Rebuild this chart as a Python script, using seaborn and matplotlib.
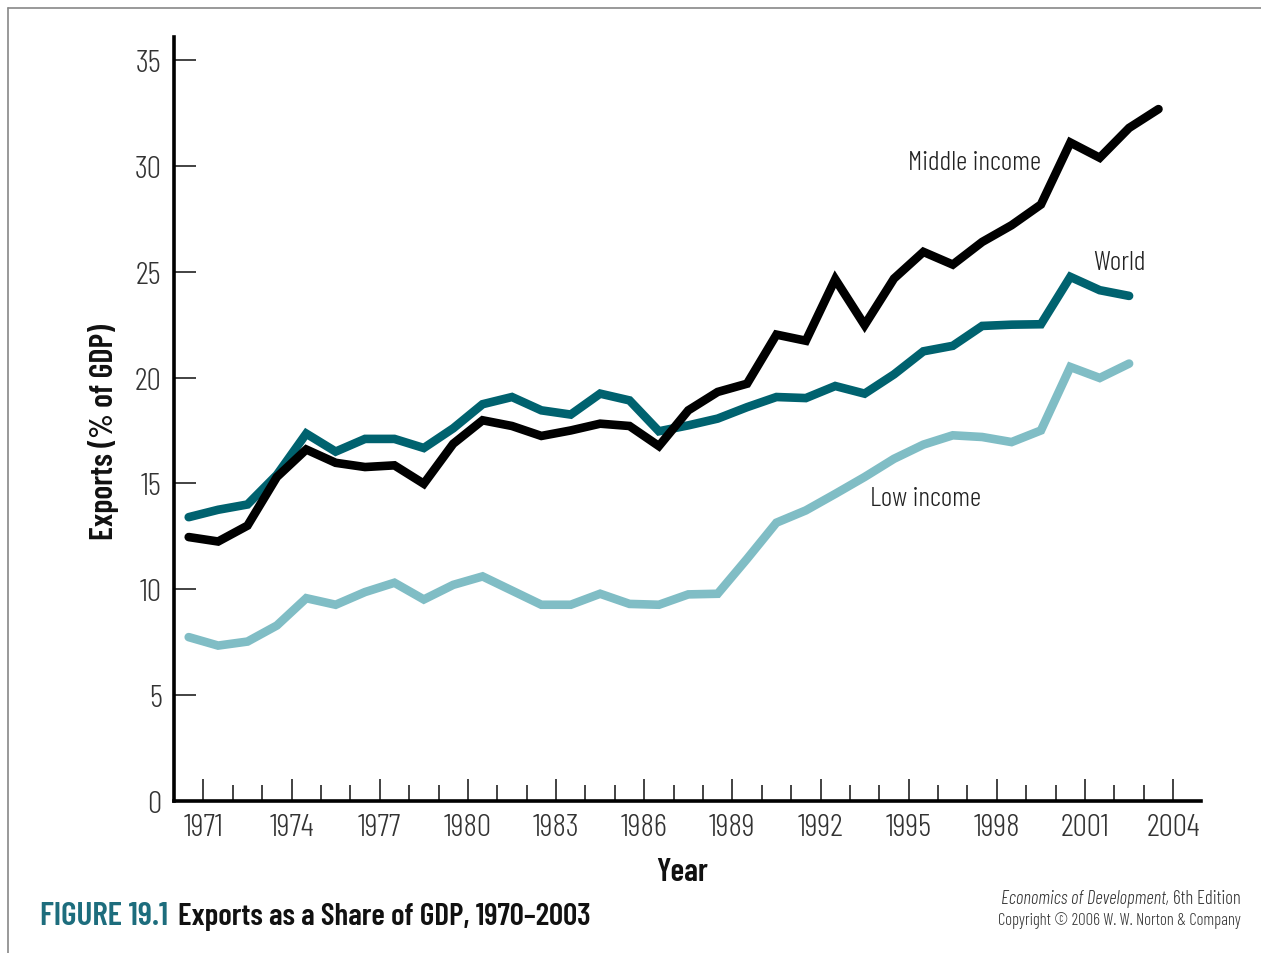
import numpy as np
import pandas as pd
import matplotlib
matplotlib.use("Agg")
import matplotlib.pyplot as plt
import seaborn as sns
from matplotlib.lines import Line2D

# exports as % of GDP
years = list(range(1970, 2004))
middle_income = [12.46, 12.25, 13.0, 15.3, 16.6, 15.97, 15.77, 15.85, 14.98, 16.87,
                 17.98, 17.71, 17.24, 17.5, 17.82, 17.71, 16.76, 18.45, 19.32, 19.71,
                 22.03, 21.74, 24.65, 22.48, 24.68, 25.94, 25.34, 26.41, 27.2, 28.18,
                 31.11, 30.39, 31.8, 32.69]
world = [13.4, 13.75, 14.0, 15.4, 17.35, 16.5, 17.1, 17.1, 16.67, 17.6,
         18.74, 19.08, 18.45, 18.25, 19.24, 18.92, 17.46, 17.74, 18.06, 18.6,
         19.08, 19.03, 19.6, 19.24, 20.15, 21.24, 21.5, 22.44, 22.5, 22.52,
         24.76, 24.13, 23.86]
low_income = [7.73, 7.33, 7.52, 8.28, 9.57, 9.26, 9.86, 10.3, 9.51, 10.2,
              10.6, 9.93, 9.26, 9.26, 9.78, 9.3, 9.26, 9.75, 9.78, 11.43,
              13.14, 13.72, 14.5, 15.3, 16.16, 16.83, 17.27, 17.19, 16.95, 17.5,
              20.5, 19.98, 20.66]

series = {"Low income": low_income, "World": world, "Middle income": middle_income}
colors = {"Low income": "#80bdc5", "World": "#00626f", "Middle income": "#000000"}

rows = []
for name, vals in series.items():
    for yr, v in zip(years, vals):
        # annual values sit in the middle of each year interval
        rows.append({"year": yr + 0.5, "share": v, "group": name})
df = pd.DataFrame(rows)

sns.set_style("ticks")
plt.rcParams["font.family"] = ["Barlow Condensed", "DejaVu Sans"]
LIGHT = 300

fig = plt.figure(figsize=(12.61, 9.54), dpi=100)
ax = fig.add_axes([0.138, 0.1597, 0.8145, 0.8005])

sns.lineplot(data=df, x="year", y="share", hue="group", palette=colors,
             hue_order=list(series.keys()), linewidth=6.2, legend=False, ax=ax,
             solid_capstyle="round", solid_joinstyle="miter")

ax.set_xlim(1970, 2004.95)
ax.set_ylim(0, 36.1)

sns.despine(ax=ax)
for s in ["left", "bottom"]:
    ax.spines[s].set_linewidth(2.6)
    ax.spines[s].set_color("black")

major_years = list(range(1971, 2005, 3))
minor_years = [y for y in range(1971, 2005) if y not in major_years]
ax.set_xticks(major_years)
ax.set_xticklabels([str(y) for y in major_years])
ax.set_xticks(minor_years, minor=True)
ax.set_yticks(range(0, 36, 5))

ax.tick_params(axis="x", which="major", direction="in", length=16, width=1.2,
               pad=9, labelsize=23, labelcolor="#333333", color="#222222")
ax.tick_params(axis="x", which="minor", direction="in", length=11.5, width=1.2,
               color="#222222")
ax.tick_params(axis="y", which="major", direction="in", length=16, width=1.2,
               pad=9, labelsize=23, labelcolor="#333333", color="#222222")
for lab in ax.get_xticklabels() + ax.get_yticklabels():
    lab.set_fontweight(LIGHT)

ax.set_xlabel("Year", fontsize=23, fontweight="semibold", color="#111111")
ax.xaxis.set_label_coords(0.4947, -0.074)
ax.set_ylabel("Exports (% of GDP)", fontsize=23, fontweight="semibold", color="#111111",
              va="center")
ax.yaxis.set_label_coords(-0.069, 0.484)

# series labels
ax.text(1994.98, 30.2, "Middle income", fontsize=20, fontweight=LIGHT, color="#222222",
        va="center")
ax.text(2001.27, 25.48, "World", fontsize=20, fontweight=LIGHT, color="#222222",
        va="center")
ax.text(1993.69, 14.32, "Low income", fontsize=20, fontweight=LIGHT, color="#222222",
        va="center")

# caption
t1 = fig.text(40 / 1261, 1 - 925 / 954, "FIGURE 19.1", fontsize=24, fontweight="semibold",
              color="#1d6d7d", va="baseline")
fig.canvas.draw()
r = fig.canvas.get_renderer()
bb = t1.get_window_extent(r)
fig.text((bb.x1 + 10) / 1261, 1 - 925 / 954, "Exports as a Share of GDP, 1970\u20132003",
         fontsize=22.5, fontweight="semibold", color="#111111", va="baseline")

# source note, right aligned
t2 = fig.text(1241 / 1261, 1 - 904 / 954, "6th Edition", fontsize=13.5, fontweight=LIGHT,
              color="#333333", ha="right", va="baseline")
bb2 = t2.get_window_extent(r)
fig.text((bb2.x0 - 4) / 1261, 1 - 904 / 954, "Economics of Development,", fontsize=13.5,
         fontweight=LIGHT, style="italic", color="#333333", ha="right", va="baseline")
fig.text(1241 / 1261, 1 - 925 / 954, "Copyright \u00a9 2006 W. W. Norton & Company",
         fontsize=12, fontweight=LIGHT, color="#333333", ha="right", va="baseline")

# thin frame at top and left edge
fig.add_artist(Line2D([8 / 1261, 1], [1 - 9 / 954, 1 - 9 / 954], transform=fig.transFigure,
                      color="#888888", linewidth=1.2))
fig.add_artist(Line2D([8 / 1261, 8 / 1261], [0, 1 - 9 / 954], transform=fig.transFigure,
                      color="#888888", linewidth=1.2))

fig.savefig("out.png", dpi=100)
